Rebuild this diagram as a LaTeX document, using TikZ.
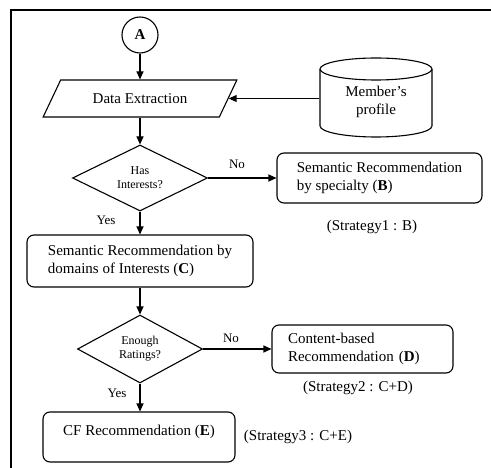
\documentclass[tikz,border=0pt]{standalone}
\usepackage{fontspec}
\setmainfont{Liberation Serif}
\usetikzlibrary{arrows.meta,shapes.geometric}
\begin{document}
\begin{tikzpicture}[x=1pt,y=-1pt,line width=1.1pt,
  every node/.style={font=\fontsize{15}{18}\selectfont},
  box/.style={draw,rounded corners=7pt,minimum height=50pt,align=left},
  decision/.style={draw,diamond,inner sep=0pt,align=center,
    font=\fontsize{12}{14}\selectfont},
  arr/.style={-{Triangle[length=8pt,width=7pt]}},
  lbl/.style={font=\fontsize{13}{15}\selectfont}]
\useasboundingbox (0,0) rectangle (491,468);
% outer frame
\draw[line width=2pt] (11,468) -- (11,10) -- (491,10);

% start connector
\node[circle,draw,minimum size=36pt,inner sep=0pt,
  font=\bfseries\fontsize{15}{18}\selectfont] (A) at (140,35) {A};

% data extraction (parallelogram)
\node[trapezium,draw,trapezium left angle=44,trapezium right angle=136,
  trapezium stretches=true,minimum width=194pt,minimum height=37pt,
  inner sep=0pt] (de) at (140,98.5) {Data Extraction};

% member's profile (database cylinder)
\node[minimum width=112pt,minimum height=57pt,inner sep=0pt,align=center]
  (prof) at (376,102) {Member's\\profile};
\draw (320,69) -- (320,126) arc[start angle=180,end angle=0,x radius=56,y radius=11] -- (432,69);
\draw (376,69) ellipse[x radius=56,y radius=11];

% decisions and recommendation steps
\node[decision,minimum width=135pt,minimum height=66pt,aspect=2] (d1) at (140,178) {Has\\Interests?};
\node[box,minimum width=205pt] (B) at (379.5,178) {Semantic Recommendation\\by specialty (\textbf{B})};
\node[box,minimum width=226pt,minimum height=52pt] (C) at (140,261) {Semantic Recommendation by\\domains of Interests (\textbf{C})};
\node[decision,minimum width=125pt,minimum height=68pt,aspect=1.84] (d2) at (140,349) {Enough\\Ratings?};
\node[box,minimum width=181pt,minimum height=48pt,text width=149pt,inner xsep=16pt] (D) at (362.5,349) {Content-based\\Recommendation (\textbf{D})};
\node[box,minimum width=192pt,text depth=13pt] (E) at (139,437) {CF Recommendation (\textbf{E})};

% connectors
\draw[arr] (A) -- (A.south |- de.north);
\draw[arr] (prof.west |- de.east) -- (de.east);
\draw[arr] (de.south) -- (de.south |- d1.north);
\draw[arr] (d1) -- (B);
\draw[arr] (d1.south) -- (d1.south |- C.north);
\draw[arr] (C.south -| d2.north) -- (d2.north);
\draw[arr] (d2) -- (D);
\draw[arr] (d2.south) -- (d2.south |- E.north);

% branch labels
\node[lbl] (no1) at (237,164) {No};
\node[lbl] (yes1) at (106,220) {Yes};
\node[lbl] (no2) at (231,338) {No};
\node[lbl] (yes2) at (117,393) {Yes};

% strategy notes
\node (s1) at (372,227) {(Strategy1 : B)};
\node (s2) at (358,388) {(Strategy2 : C+D)};
\node (s3) at (298,437) {(Strategy3 : C+E)};
\end{tikzpicture}
\end{document}
